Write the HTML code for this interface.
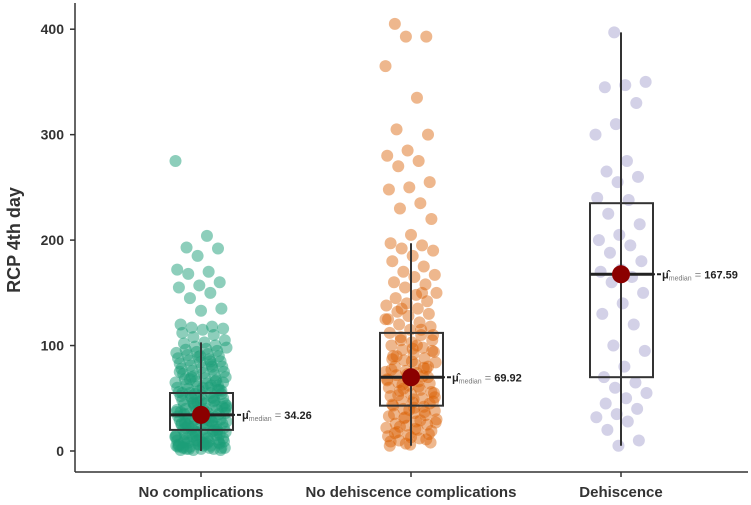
<!DOCTYPE html>
<html><head><meta charset="utf-8"><style>
html,body{margin:0;padding:0;background:#fff;}
svg{display:block;font-family:"Liberation Sans",Arial,sans-serif;}
</style></head><body>
<svg id="chart" width="751" height="505" viewBox="0 0 751 505" xmlns="http://www.w3.org/2000/svg">
<g id="marks"></g>
<g id="axes"></g>
</svg>
<script>
const categories = ["No complications","No dehiscence complications","Dehiscence"];
const medianLabels = ["34.26","69.92","167.59"];
const medians = [34.26, 69.92, 167.59];
const q1s = [20, 43, 70];
const q3s = [55, 112, 235];
const whiskLo = [0, 5, 5];
const whiskHi = [103, 197, 397];
const yTicks = [0,100,200,300,400];
const pts1 = [275,204,193,192,185,172,170,168,160,157,155,150,145,135,133,120,118,117,116,115,112,110,108,105,103,102,100,99,98,97,96,95,94,93,92,91,90,89,88,87,86,85,84,83,82,81,80,79,78,77,76,75,74,73,72,71,70,69,68,67,66,65,64,63,62,61,60,60,59,58,57,56,55,55,54,53,52,51,50,50,49,48,47,46,45,45,44,43,42,41,40,40,39,38,37,36,35,35,34,33,32,31,30,30,29,28,27,26,25,25,24,23,22,21,20,20,19,18,17,16,15,15,14,13,12,11,10,10,9,8,7,6,5,5,4,3,2,1,80,70,65,60,55,50,45,40,38,35,32,30,28,25,22,20,18,15,12,10,8,6,4,3,2,1,90,75,62,52,42,33,26,19,14,9,5,3,48,44,36,31,27,23,17,13,7,2,58,46,39,29,24,16,11,6,85,68,57,47,37,28,21,12,8,4,2,1,3,6,9,66,54,43,34,26,18,10,5];
const pts2 = [405,393,393,365,335,305,300,285,280,275,270,255,250,248,235,230,220,205,197,195,192,190,185,180,175,170,167,165,160,158,155,150,148,145,142,140,138,135,132,130,128,125,122,120,118,115,112,110,108,105,103,100,98,96,94,92,90,88,86,84,82,80,78,76,75,74,72,70,69,68,66,65,64,62,60,58,57,56,54,52,50,48,47,46,44,42,40,38,36,35,34,32,30,28,26,25,24,22,20,18,16,15,14,12,10,8,6,5,115,105,95,85,77,71,63,55,49,43,37,31,27,21,17,11,7,125,100,90,80,73,67,61,53,45,39,33,29,23,19,13,9,150,135,110,97,87,79,59,51,41];
const pts3 = [397,350,347,345,330,310,300,275,265,260,255,240,238,225,215,205,200,195,188,180,172,170,165,160,150,140,130,120,100,95,80,70,65,60,55,50,45,40,35,32,28,20,10,5];
const groups = [pts1, pts2, pts3];
const colors = ["#1b9e77","#d95f02","#7570b3"];
const ptOpacity = [0.5,0.45,0.32];

const NS="http://www.w3.org/2000/svg";
const marks=document.getElementById('marks');
const axes=document.getElementById('axes');
function y(v){return 451 - v*1.0545;}
function x(i){return 201 + i*210;}
function mk(tag,attrs,parent){const e=document.createElementNS(NS,tag);for(const k in attrs)e.setAttribute(k,attrs[k]);parent.appendChild(e);return e;}

groups.forEach((g,gi)=>{
  g.forEach((v,i)=>{
    const jit=((i*37+gi*11)%61)-30;
    const c=mk('circle',{cx:x(gi)+jit*0.85,cy:y(v),r:6,fill:colors[gi],'fill-opacity':ptOpacity[gi]},marks);
    
    
  });
});
categories.forEach((c,i)=>{
  const cx=x(i);
  const w=mk('line',{x1:cx,x2:cx,y1:y(whiskLo[i]),y2:y(whiskHi[i]),stroke:'#333','stroke-width':2},marks);
  
  
  const b=mk('rect',{x:cx-31,y:y(q3s[i]),width:63,height:y(q1s[i])-y(q3s[i]),fill:'none',stroke:'#333','stroke-width':2},marks);
  
  
  const m=mk('line',{x1:cx-31,x2:cx+32,y1:y(medians[i]),y2:y(medians[i]),stroke:'#222','stroke-width':3},marks);
  
  
  const d=mk('line',{x1:cx,x2:cx+42,y1:y(medians[i]),y2:y(medians[i]),stroke:'#222','stroke-width':2,'stroke-dasharray':'4 2'},marks);
  
  
  const p=mk('circle',{cx:cx,cy:y(medians[i]),r:9,fill:'#8b0000'},marks);
  
  
  const t=mk('text',{x:cx+41,y:y(medians[i])+4,'font-size':11,'font-weight':'bold',fill:'#222'},marks);
  
  
  t.innerHTML='μ̂<tspan font-size="7" font-weight="normal" fill="#777" dy="2">median</tspan><tspan dy="-2" font-weight="normal" fill="#777"> = </tspan>'+medianLabels[i];
  const tl=mk('line',{x1:cx,x2:cx,y1:472,y2:477,stroke:'#333','stroke-width':1.5},axes);
  
  
  const xl=mk('text',{x:cx,y:497,'text-anchor':'middle','font-size':15,'font-weight':'bold',fill:'#333'},axes);
  
  
  xl.textContent=c;
});
const ya=mk('line',{x1:75,x2:75,y1:3,y2:472,stroke:'#333','stroke-width':1.5},axes);


const xa=mk('line',{x1:75,x2:748,y1:472,y2:472,stroke:'#333','stroke-width':1.5},axes);


yTicks.forEach(v=>{
  const t=mk('line',{x1:70,x2:75,y1:y(v),y2:y(v),stroke:'#333','stroke-width':1.5},axes);
  
  
  const l=mk('text',{x:64,y:y(v)+5,'text-anchor':'end','font-size':14,'font-weight':'bold',fill:'#333'},axes);
  
  
  l.textContent=v;
});
const yt=mk('text',{x:0,y:0,transform:'translate(20,240) rotate(-90)','text-anchor':'middle','font-size':18,'font-weight':'bold',fill:'#333'},axes);


yt.textContent='RCP 4th day';
</script>
</body></html>
